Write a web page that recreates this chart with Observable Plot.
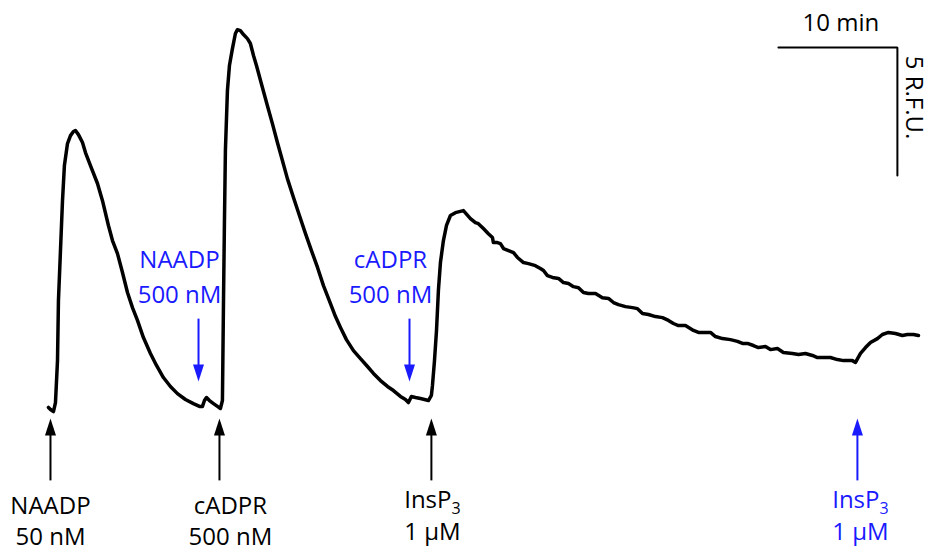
<!DOCTYPE html>
<html>
<head>
<meta charset="utf-8">
<script src="https://cdn.jsdelivr.net/npm/d3@7"></script>
<script src="https://cdn.jsdelivr.net/npm/@observablehq/plot@0.6"></script>
<style>
  html, body { margin: 0; padding: 0; background: #fff; }
  #chart svg { display: block; }
</style>
</head>
<body>
<div id="chart"></div>
<script>
// Fluorescence trace: time (min) and fluorescence (R.F.U., relative to resting baseline)
const traceTime = [0,0.17,0.42,0.59,0.76,0.84,1.01,1.18,1.34,1.60,1.85,2.10,2.27,2.52,2.86,3.11,3.53,4.12,4.54,5.04,5.38,5.80,6.22,6.64,7.06,7.48,7.98,8.57,9.08,9.66,10.25,10.84,11.51,12.18,12.69,12.94,13.11,13.28,13.53,13.87,14.20,14.45,14.62,14.71,14.79,14.87,15.04,15.21,15.46,15.71,15.88,16.13,16.39,16.72,16.97,17.23,17.48,17.98,18.40,18.82,19.24,19.66,20.08,20.59,21.09,21.60,22.10,22.61,23.11,23.70,24.12,24.54,25.04,25.63,26.22,26.81,27.31,27.90,28.49,28.99,29.58,30.00,30.25,30.50,30.84,31.26,31.60,31.93,32.18,32.27,32.44,32.61,32.77,32.94,33.19,33.45,33.78,
  34.20,34.87,35.46,35.88,36.13,36.55,36.97,37.31,37.39,37.73,37.98,38.24,38.66,39.08,39.41,39.92,40.34,40.92,41.34,41.60,41.93,42.35,42.86,43.28,43.70,44.12,44.54,44.96,45.38,45.97,46.55,47.06,47.48,47.90,48.49,49.08,49.50,49.92,50.42,51.01,51.60,52.10,52.52,52.94,53.53,54.20,54.62,55.04,55.63,56.05,56.64,57.31,57.90,58.32,58.74,59.24,59.66,60.25,60.67,61.26,61.76,62.52,63.03,63.61,64.20,64.62,65.13,65.71,66.30,66.81,67.56,67.82,68.24,68.66,69.08,69.66,70.08,70.59,71.18,71.76,72.18,72.69,73.11];
const traceRFU = [0.12,0.04,-0.04,0.31,1.95,4.30,6.25,8.20,9.57,10.43,10.74,10.90,10.94,10.78,10.47,10.08,9.57,8.87,8.20,7.23,6.64,6.13,5.39,4.61,4.02,3.52,2.85,2.23,1.76,1.29,0.94,0.66,0.43,0.27,0.16,0.16,0.39,0.51,0.39,0.27,0.16,0.08,0.39,4.30,7.42,10.16,12.50,13.48,14.14,14.73,14.88,14.84,14.69,14.53,14.34,13.87,13.48,12.62,11.91,11.21,10.47,9.77,9.06,8.32,7.62,6.91,6.25,5.59,4.88,4.18,3.67,3.24,2.77,2.34,2.03,1.72,1.45,1.17,0.94,0.78,0.55,0.43,0.31,0.55,0.51,0.47,0.43,0.39,0.59,0.98,1.95,3.13,4.69,5.78,6.64,7.23,7.62,
  7.73,7.81,7.50,7.34,7.30,7.11,6.91,6.76,6.56,6.56,6.52,6.33,6.25,6.17,5.98,5.78,5.74,5.66,5.55,5.47,5.27,5.20,5.16,5.00,4.96,4.84,4.80,4.61,4.57,4.57,4.41,4.38,4.22,4.14,4.06,4.02,3.98,3.79,3.75,3.67,3.63,3.52,3.40,3.32,3.32,3.13,3.05,3.05,3.05,2.89,2.81,2.77,2.70,2.62,2.62,2.54,2.46,2.50,2.38,2.42,2.27,2.23,2.19,2.23,2.15,2.07,2.07,2.07,1.99,1.95,1.95,1.88,2.23,2.46,2.66,2.81,2.97,3.05,3.01,2.93,2.97,2.97,2.93];

// First additions (arrows below the trace)
const firstTimes  = [0.17, 14.37, 32.18];
const firstAgents = ["NAADP", "cADPR", "InsP3"];
const firstDoses  = ["50 nM", "500 nM", "1 µM"];
// Second additions (blue)
const secondTimes  = [12.61, 30.34, 67.98];
const secondAgents = ["NAADP", "cADPR", "InsP3"];
const secondDoses  = ["500 nM", "500 nM", "1 µM"];

// Scale bar
const scaleMinutes = 10;
const scaleRFU = 5;

// ---------- layout ----------
const W = 927, H = 549;
const BLUE = "#1a1aff";
const FONT = "Open Sans";
const FS = 24;

const trace = traceTime.map((t, i) => ({t, f: traceRFU[i]}));

const upLo = -2.73, upHi = -0.31, downHi = 3.59, downLo = 1.13, headLen = 0.5;
const ups = [
  ...firstTimes.map((t, i) => ({t, agent: firstAgents[i], dose: firstDoses[i], color: "black"})),
  {t: secondTimes[2], agent: secondAgents[2], dose: secondDoses[2], color: BLUE}
];
const downs = secondTimes.slice(0, 2).map((t, i) => ({t, agent: secondAgents[i], dose: secondDoses[i], color: BLUE}));
const upDx = [0, 11, 1, 3];
ups.forEach((d, i) => d.dx = upDx[i]);

const headSymbol = {
  draw(ctx) {
    ctx.moveTo(0, 0);
    ctx.lineTo(5.5, 17);
    ctx.lineTo(-5.5, 17);
    ctx.closePath();
  }
};

const barT = 71.34, barTop = 14.18;

const textOpts = {fontSize: FS, fontFamily: FONT, textAnchor: "middle", lineAnchor: "bottom"};

const labelMarks = [];
ups.forEach((d) => {
  const isIns = d.agent === "InsP3";
  const y1 = isIns ? -3.82 : -4.06;
  const y2 = isIns ? -5.07 : -5.27;
  labelMarks.push(Plot.text([d], {x: "t", y: () => y1, text: "agent", fill: d.color, dx: d.dx, ...textOpts}));
  labelMarks.push(Plot.text([d], {x: "t", y: () => y2, text: "dose", fill: d.color, dx: d.dx, ...textOpts}));
});
downs.forEach((d) => {
  labelMarks.push(Plot.text([d], {x: "t", y: () => 5.55, text: "agent", fill: d.color, dx: -19, ...textOpts}));
  labelMarks.push(Plot.text([d], {x: "t", y: () => 4.22, text: "dose", fill: d.color, dx: -19, ...textOpts}));
});

const chart = Plot.plot({
  width: W,
  height: H,
  margin: 0,
  x: {domain: [-4.03, 73.87], axis: null},
  y: {domain: [-5.43, 16.02], axis: null},
  style: {background: "#fff", fontFamily: FONT},
  marks: [
    Plot.line(trace, {x: "t", y: "f", stroke: "black", strokeWidth: 3.5, strokeLinejoin: "round", strokeLinecap: "round"}),
    Plot.link(ups, {x1: "t", x2: "t", y1: () => upLo, y2: () => upHi - headLen, stroke: "color", strokeWidth: 2}),
    Plot.dot(ups, {x: "t", y: () => upHi, symbol: headSymbol, fill: "color", stroke: null, r: 5}),
    Plot.link(downs, {x1: "t", x2: "t", y1: () => downHi, y2: () => downLo + headLen, stroke: "color", strokeWidth: 2}),
    Plot.dot(downs, {x: "t", y: () => downLo, symbol: headSymbol, rotate: 180, fill: "color", stroke: null, r: 5}),
    ...labelMarks,
    Plot.line([{t: barT - scaleMinutes, f: barTop}, {t: barT, f: barTop}, {t: barT, f: barTop - scaleRFU}],
      {x: "t", y: "f", stroke: "black", strokeWidth: 2, strokeLinejoin: "miter"}),
    Plot.text([{t: barT - scaleMinutes / 2, f: barTop}], {x: "t", y: "f", text: () => `${scaleMinutes} min`, dx: 3, dy: -17, fill: "black", ...textOpts}),
    Plot.text([{t: barT + 0.7, f: barTop - 1.95}], {x: "t", y: "f", text: () => `${scaleRFU} R.F.U.`, rotate: 90, fill: "black", ...textOpts})
  ]
});

chart.querySelectorAll("text").forEach(el => {
  if (el.textContent === "InsP3") {
    el.textContent = "InsP";
    const ts = document.createElementNS("http://www.w3.org/2000/svg", "tspan");
    ts.setAttribute("dy", "6");
    ts.setAttribute("font-size", "16");
    ts.textContent = "3";
    el.appendChild(ts);
  }
});

document.getElementById("chart").appendChild(chart);
</script>
</body>
</html>
